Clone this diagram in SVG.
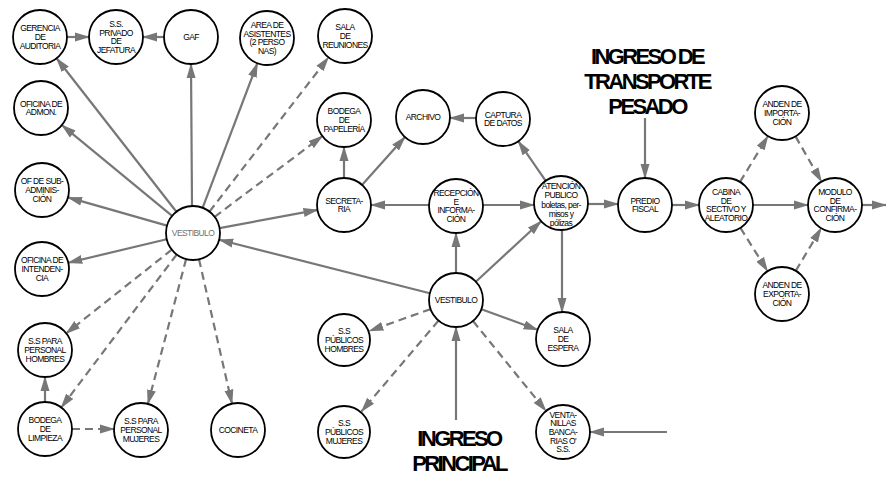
<svg xmlns="http://www.w3.org/2000/svg" width="886" height="477" viewBox="0 0 886 477">
<style>
.n{fill:#fff;stroke:#000;stroke-width:1.8}
.t{font-family:"Liberation Sans",Arial,sans-serif;font-size:8.5px;letter-spacing:-0.6px;text-anchor:middle;fill:#000}
.g{fill:#707070}
.big{font-family:"Liberation Sans",Arial,sans-serif;font-size:22px;font-weight:bold;letter-spacing:-2.6px;text-anchor:middle;fill:#000}
.e{stroke:#777;stroke-width:2.2;fill:none;marker-end:url(#ah)}
.d{stroke-dasharray:8 5}
</style>
<defs>
<marker id="ah" viewBox="0 0 15 10" markerWidth="15" markerHeight="10" refX="14" refY="5" orient="auto" markerUnits="userSpaceOnUse">
<path d="M0,0.5 L15,5 L0,9.5 z" fill="#777"/>
</marker>
</defs>
<rect width="886" height="477" fill="#fff"/>
<g id="connectors">
<line class="e" x1="67" y1="37" x2="89" y2="37"/>
<line class="e" x1="164" y1="37" x2="143" y2="37"/>
<line class="e" x1="176.4" y1="211.7" x2="56.6" y2="58.3"/>
<line class="e" x1="172.1" y1="215.8" x2="61.9" y2="125.2"/>
<line class="e" x1="167" y1="225.6" x2="68" y2="197.4"/>
<line class="e" x1="166.7" y1="239.3" x2="68.3" y2="262.7"/>
<line class="e" x1="192" y1="206" x2="191" y2="64"/>
<line class="e" x1="202.6" y1="207.8" x2="257.4" y2="63.2"/>
<line class="e d" x1="209.5" y1="211.6" x2="328.5" y2="57.4"/>
<line class="e d" x1="214.6" y1="216.8" x2="322.4" y2="136.2"/>
<line class="e" x1="219.5" y1="228.1" x2="317.5" y2="209.9"/>
<line class="e d" x1="171.8" y1="249.7" x2="66.2" y2="333.3"/>
<line class="e d" x1="176.7" y1="254.5" x2="61.3" y2="407.5"/>
<line class="e d" x1="186.1" y1="259.1" x2="147.9" y2="403.9"/>
<line class="e d" x1="199" y1="259.3" x2="232" y2="403.7"/>
<line class="e" x1="429.8" y1="293.3" x2="219.2" y2="239.7"/>
<line class="e" x1="344" y1="178" x2="344" y2="147"/>
<line class="e" x1="362" y1="184.9" x2="405" y2="137.1"/>
<line class="e" x1="476" y1="118" x2="450" y2="118"/>
<line class="e" x1="545.7" y1="180.8" x2="518.3" y2="141.2"/>
<line class="e" x1="429" y1="205" x2="371" y2="205"/>
<line class="e" x1="483" y1="205" x2="534" y2="205"/>
<line class="e" x1="456" y1="273" x2="456" y2="233"/>
<line class="e" x1="475.8" y1="281.7" x2="541.2" y2="221.3"/>
<line class="e" x1="562" y1="230" x2="562" y2="312"/>
<line class="e" x1="481.4" y1="309.2" x2="537.6" y2="329.8"/>
<line class="e d" x1="430.6" y1="309.1" x2="369.4" y2="330.9"/>
<line class="e d" x1="438.5" y1="320.6" x2="361.5" y2="411.4"/>
<line class="e d" x1="473" y1="321" x2="546" y2="411"/>
<line class="e" x1="456" y1="420" x2="456" y2="327"/>
<line class="e" x1="667" y1="432" x2="590" y2="432"/>
<line class="e" x1="645" y1="118" x2="645" y2="178"/>
<line class="e" x1="588" y1="204" x2="618" y2="204"/>
<line class="e" x1="672" y1="205" x2="699" y2="205"/>
<line class="e" x1="753" y1="205" x2="808" y2="205"/>
<line class="e d" x1="740" y1="181.9" x2="768" y2="136.1"/>
<line class="e d" x1="740.4" y1="227.8" x2="767.6" y2="271.2"/>
<line class="e d" x1="795.5" y1="136.4" x2="821.5" y2="181.6"/>
<line class="e d" x1="795.8" y1="270.8" x2="821.2" y2="228.2"/>
<line class="e" x1="862" y1="205" x2="886" y2="205"/>
<line class="e" x1="45" y1="402" x2="45" y2="377"/>
<line class="e d" x1="72" y1="429" x2="114" y2="429"/>
</g>
<g id="ger"><circle class="n" cx="40" cy="37" r="27"/><text class="t" x="40" y="31.3"><tspan x="40">GERENCIA</tspan><tspan x="40" dy="8.7">DE</tspan><tspan x="40" dy="8.7">AUDITORIA</tspan></text></g>
<g id="ssp"><circle class="n" cx="116" cy="37" r="27"/><text class="t" x="116" y="26.95"><tspan x="116">S.S.</tspan><tspan x="116" dy="8.7">PRIVADO</tspan><tspan x="116" dy="8.7">DE</tspan><tspan x="116" dy="8.7">JEFATURA</tspan></text></g>
<g id="gaf"><circle class="n" cx="191" cy="37" r="27"/><text class="t" x="191" y="40">GAF</text></g>
<g id="area"><circle class="n" cx="267" cy="38" r="27"/><text class="t" x="267" y="27.95"><tspan x="267">AREA DE</tspan><tspan x="267" dy="8.7">ASISTENTES</tspan><tspan x="267" dy="8.7">(2 PERSO</tspan><tspan x="267" dy="8.7">NAS)</tspan></text></g>
<g id="salar"><circle class="n" cx="345" cy="36" r="27"/><text class="t" x="345" y="30.3"><tspan x="345">SALA</tspan><tspan x="345" dy="8.7">DE</tspan><tspan x="345" dy="8.7">REUNIONES</tspan></text></g>
<g id="admon"><circle class="n" cx="41" cy="108" r="27"/><text class="t" x="41" y="106.65"><tspan x="41">OFICINA DE</tspan><tspan x="41" dy="8.7">ADMON.</tspan></text></g>
<g id="sub"><circle class="n" cx="42" cy="190" r="27"/><text class="t" x="42" y="184.3"><tspan x="42">OF DE SUB-</tspan><tspan x="42" dy="8.7">ADMINIS-</tspan><tspan x="42" dy="8.7">CIÓN</tspan></text></g>
<g id="int"><circle class="n" cx="42" cy="269" r="27"/><text class="t" x="42" y="263.3"><tspan x="42">OFICINA DE</tspan><tspan x="42" dy="8.7">INTENDEN-</tspan><tspan x="42" dy="8.7">CIA</tspan></text></g>
<g id="vl"><circle class="n" cx="193" cy="233" r="27"/><text class="t g" x="193" y="236">VESTIBULO</text></g>
<g id="ssh"><circle class="n" cx="45" cy="350" r="27"/><text class="t" x="45" y="344.3"><tspan x="45">S.S PARA</tspan><tspan x="45" dy="8.7">PERSONAL</tspan><tspan x="45" dy="8.7">HOMBRES</tspan></text></g>
<g id="bl"><circle class="n" cx="45" cy="429" r="27"/><text class="t" x="45" y="423.3"><tspan x="45">BODEGA</tspan><tspan x="45" dy="8.7">DE</tspan><tspan x="45" dy="8.7">LIMPIEZA</tspan></text></g>
<g id="ssm"><circle class="n" cx="141" cy="430" r="27"/><text class="t" x="141" y="424.3"><tspan x="141">S.S PARA</tspan><tspan x="141" dy="8.7">PERSONAL</tspan><tspan x="141" dy="8.7">MUJERES</tspan></text></g>
<g id="coc"><circle class="n" cx="238" cy="430" r="27"/><text class="t" x="238" y="433">COCINETA</text></g>
<g id="bp"><circle class="n" cx="344" cy="120" r="27"/><text class="t" x="344" y="114.3"><tspan x="344">BODEGA</tspan><tspan x="344" dy="8.7">DE</tspan><tspan x="344" dy="8.7">PAPELERÍA</tspan></text></g>
<g id="arc"><circle class="n" cx="423" cy="117" r="27"/><text class="t" x="423" y="120">ARCHIVO</text></g>
<g id="cap"><circle class="n" cx="503" cy="119" r="27"/><text class="t" x="503" y="117.65"><tspan x="503">CAPTURA</tspan><tspan x="503" dy="8.7">DE DATOS</tspan></text></g>
<g id="sec"><circle class="n" cx="344" cy="205" r="27"/><text class="t" x="344" y="203.65"><tspan x="344">SECRETA-</tspan><tspan x="344" dy="8.7">RIA</tspan></text></g>
<g id="rec"><circle class="n" cx="456" cy="206" r="27"/><text class="t" x="456" y="195.95"><tspan x="456">RECEPCIÓN</tspan><tspan x="456" dy="8.7">E</tspan><tspan x="456" dy="8.7">INFORMA-</tspan><tspan x="456" dy="8.7">CIÓN</tspan></text></g>
<g id="ate"><circle class="n" cx="561" cy="203" r="27"/><text class="t" x="561" y="189"><tspan x="561">ATENCIÓN</tspan><tspan x="561" dy="9.3">PUBLICO</tspan><tspan x="561" dy="9.3">boletas, per-</tspan><tspan x="561" dy="9.3">misos y</tspan><tspan x="561" dy="9.3">pólizas</tspan></text></g>
<g id="vc"><circle class="n" cx="456" cy="300" r="27"/><text class="t" x="456" y="303">VESTIBULO</text></g>
<g id="sph"><circle class="n" cx="344" cy="340" r="26"/><text class="t" x="344" y="334.3"><tspan x="344">S.S</tspan><tspan x="344" dy="8.7">PÚBLICOS</tspan><tspan x="344" dy="8.7">HOMBRES</tspan></text></g>
<g id="spm"><circle class="n" cx="344" cy="432" r="26"/><text class="t" x="344" y="426.3"><tspan x="344">S.S</tspan><tspan x="344" dy="8.7">PÚBLICOS</tspan><tspan x="344" dy="8.7">MUJERES</tspan></text></g>
<g id="se"><circle class="n" cx="563" cy="339" r="27"/><text class="t" x="563" y="333.3"><tspan x="563">SALA</tspan><tspan x="563" dy="8.7">DE</tspan><tspan x="563" dy="8.7">ESPERA</tspan></text></g>
<g id="ven"><circle class="n" cx="563" cy="432" r="27"/><text class="t" x="563" y="417.6"><tspan x="563">VENTA-</tspan><tspan x="563" dy="8.7">NILLAS</tspan><tspan x="563" dy="8.7">BANCA-</tspan><tspan x="563" dy="8.7">RIAS O'</tspan><tspan x="563" dy="8.7">S.S.</tspan></text></g>
<g id="pf"><circle class="n" cx="645" cy="205" r="27"/><text class="t" x="645" y="203.65"><tspan x="645">PREDIO</tspan><tspan x="645" dy="8.7">FISCAL</tspan></text></g>
<g id="cab"><circle class="n" cx="726" cy="205" r="27"/><text class="t" x="726" y="194.95"><tspan x="726">CABINA</tspan><tspan x="726" dy="8.7">DE</tspan><tspan x="726" dy="8.7">SECTIVO Y</tspan><tspan x="726" dy="8.7">ALEATORIO</tspan></text></g>
<g id="mod"><circle class="n" cx="835" cy="205" r="27"/><text class="t" x="835" y="194.95"><tspan x="835">MODULO</tspan><tspan x="835" dy="8.7">DE</tspan><tspan x="835" dy="8.7">CONFIRMA-</tspan><tspan x="835" dy="8.7">CIÓN</tspan></text></g>
<g id="ai"><circle class="n" cx="782" cy="113" r="27"/><text class="t" x="782" y="107.3"><tspan x="782">ANDEN DE</tspan><tspan x="782" dy="8.7">IMPORTA-</tspan><tspan x="782" dy="8.7">CIÓN</tspan></text></g>
<g id="ae"><circle class="n" cx="782" cy="294" r="27"/><text class="t" x="782" y="288.3"><tspan x="782">ANDEN DE</tspan><tspan x="782" dy="8.7">EXPORTA-</tspan><tspan x="782" dy="8.7">CIÓN</tspan></text></g>
<g id="ingreso-transporte"><text class="big" x="647" y="64"><tspan x="647">INGRESO DE</tspan><tspan x="647" dy="25">TRANSPORTE</tspan><tspan x="647" dy="25">PESADO</tspan></text></g>
<g id="ingreso-principal"><text class="big" x="459" y="446"><tspan x="459">INGRESO</tspan><tspan x="459" dy="25">PRINCIPAL</tspan></text></g>
</svg>
